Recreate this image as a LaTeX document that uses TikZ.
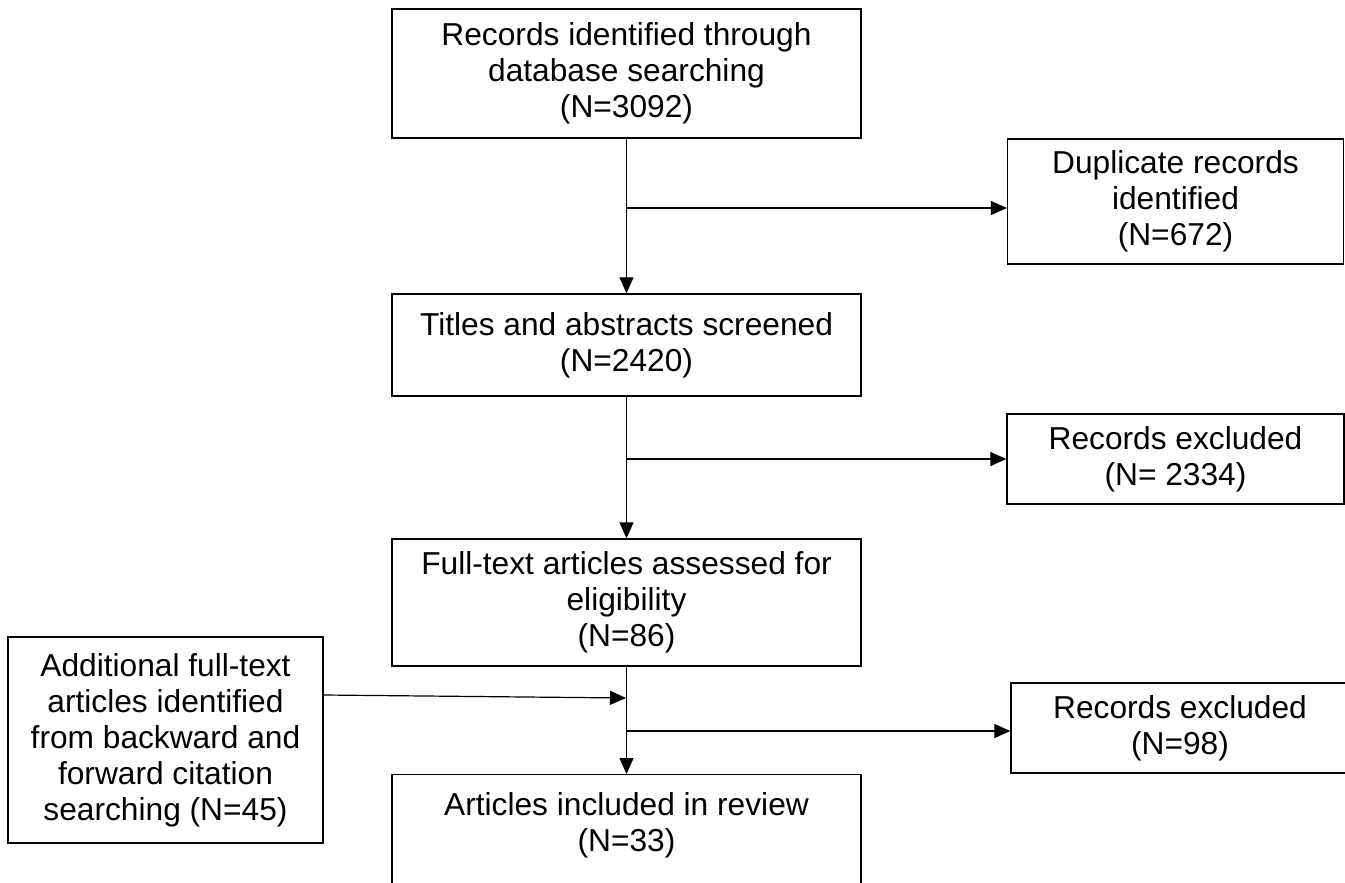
\documentclass[tikz,border=0pt]{standalone}
\usepackage{fontspec}
\setmainfont{Liberation Sans}
\usetikzlibrary{arrows.meta,calc}

\tikzset{
  box/.style={draw=black, line width=1.3pt, rectangle, align=center, inner sep=0pt,
    font=\fontsize{31.7}{36}\selectfont},
  flow/.style={draw=black, line width=1.2pt, -{Triangle[length=16pt,width=14pt]}},
  plain/.style={draw=black, line width=1.2pt}
}

\begin{document}
\begin{tikzpicture}[x=1pt,y=-1pt]
  \useasboundingbox (0,0) rectangle (1345,883);
  \clip (0,0) rectangle (1345,883);

  % main column
  \node[box, minimum width=469pt, minimum height=129pt] (ident) at (626.5,73.5)
    {Records identified through\\database searching\\(N=3092)};
  \node[box, minimum width=469pt, minimum height=102pt] (screen) at (626.5,345)
    {Titles and abstracts screened\\(N=2420)};
  \node[box, minimum width=469pt, minimum height=127pt] (full) at (626.5,602.5)
    {Full-text articles assessed for\\eligibility\\(N=86)};
  \node[box, minimum width=469pt, anchor=north, inner ysep=18pt, text depth=90pt] (incl) at (626.5,774)
    {Articles included in review\\(N=33)};

  % side boxes
  \node[box, minimum width=336pt, minimum height=125pt] (dup) at (1175.5,201.5)
    {Duplicate records\\identified\\(N=672)};
  \node[box, minimum width=337pt, minimum height=90pt] (excA) at (1175.5,459)
    {Records excluded\\(N= 2334)};
  \node[box, minimum width=338pt, minimum height=90pt] (excB) at (1180,728)
    {Records excluded\\(N=98)};
  \node[box, minimum width=315pt, minimum height=206pt] (add) at (165.5,740)
    {Additional full-text\\articles identified\\from backward and\\forward citation\\searching (N=45)};

  % branch points on the vertical flow
  \coordinate (jA) at (626,208);
  \coordinate (jB) at (626,459);
  \coordinate (jC) at (626,698);
  \coordinate (jD) at (626,731);

  % vertical flow
  \draw[flow] (ident.south) -- (screen.north);
  \draw[flow] (screen.south) -- (full.north);
  \draw[flow] (full.south) -- (incl.north);

  % exclusions to the right
  \draw[flow] (jA) -- (jA -| dup.west);
  \draw[flow] (jB) -- (jB -| excA.west);
  \draw[flow] (jD) -- (jD -| excB.west);

  % additional records joining from the left
  \draw[flow] ([yshift=45pt]add.east) -- (jC);
\end{tikzpicture}
\end{document}
